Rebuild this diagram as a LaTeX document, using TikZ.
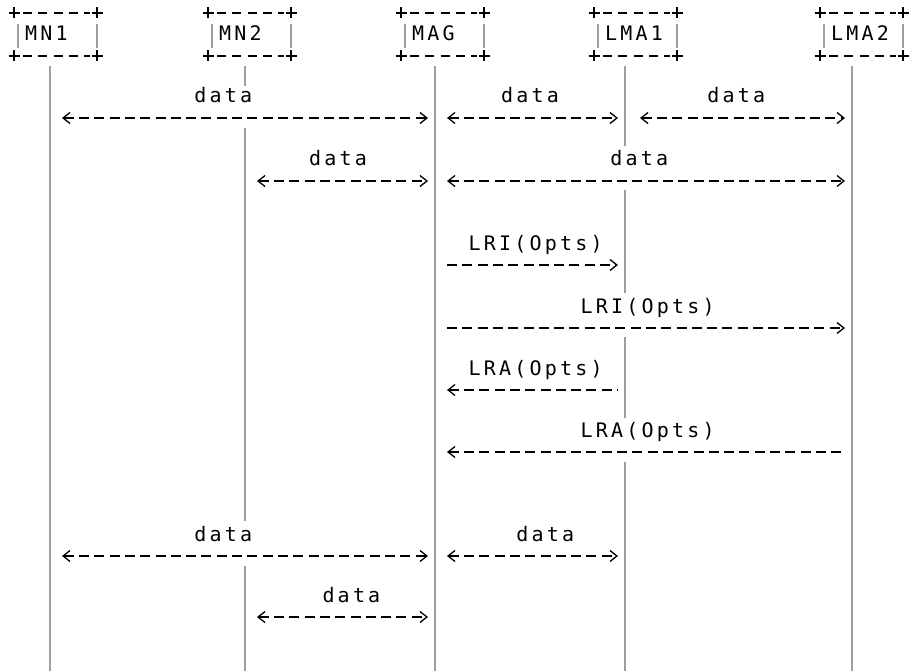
\documentclass[tikz,border=0pt]{standalone}
\usepackage{fontspec}
\newfontfamily\asciifont[LetterSpace=16]{DejaVu Sans Mono}
\usetikzlibrary{arrows.meta}

\tikzset{
    lifeline/.style={gray!75,line width=2pt},
    msg/.style={dash pattern=on 10pt off 5.3pt,line width=1.3pt,shorten <=12pt,shorten >=7pt},
    lbl/.style={anchor=base,yshift=15pt,inner sep=1.5pt,font=\asciifont\fontsize{20pt}{22pt}\selectfont},
    entity/.style={anchor=base west,inner sep=0pt,font=\asciifont\fontsize{20pt}{22pt}\selectfont},
    boxedge/.style={dash pattern=on 9pt off 6.3pt,line width=1.3pt},
    boxside/.style={gray!75,line width=1.8pt},
    corner/.style={line width=1.4pt}
}

\begin{document}
\begin{tikzpicture}[x=1pt,y=-1pt,>={Straight Barb[length=7pt,width=11pt]}]
        \useasboundingbox (0,0) rectangle (909,671);

        \foreach \n/\x in {mn1/50, mn2/245, mag/435, lma1/625, lma2/852} {
            \coordinate (\n) at (\x,66);
        }

        % Lifelines, broken where a message runs across them
        \foreach \n/\a/\b in {mn1/66/671, mn2/66/86, mn2/128/521, mn2/566/671, mag/66/671,
                              lma1/66/146, lma1/190/293, lma1/337/418, lma1/462/671, lma2/66/671} {
            \draw[lifeline] (\n |- 0,\a) -- (\n |- 0,\b);
        }

        % Boxes
        \foreach \n/\t/\x in {mn1/MN1/14, mn2/MN2/208, mag/MAG/401, lma1/LMA1/594, lma2/LMA2/820} {
            \draw[boxedge] (\x+9,13) -- (\x+76,13);
            \draw[boxedge] (\x+9,56) -- (\x+76,56);
            \draw[boxside] (\x+4,24) -- (\x+4,48);
            \draw[boxside] (\x+83,24) -- (\x+83,48);
            \foreach \cx in {\x, \x+83} {
                \foreach \cy in {13, 56} {
                    \draw[corner] (\cx-5.5,\cy) -- (\cx+5.5,\cy) (\cx,\cy-5.5) -- (\cx,\cy+5.5);
                }
            }
            \node[entity] (box-\n) at (\x+11,41) {\t};
        }

        \foreach \r/\y in {1/118, 2/181, 3/265, 4/328, 5/390, 6/452, 7/556, 8/617} {
            \coordinate (row\r) at (0,\y);
        }

        % Messages
        \draw[msg,<->] (mn1 |- row1) -- (mag |- row1) node[lbl,pos=0.45] {data};
        \draw[msg,<->] (mag |- row1) -- (lma1 |- row1) node[lbl,pos=0.5] {data};
        \draw[msg,<->,shorten <=15pt] (lma1 |- row1) -- (lma2 |- row1) node[lbl,pos=0.49] {data};

        \draw[msg,<->] (mn2 |- row2) -- (mag |- row2) node[lbl,pos=0.49] {data};
        \draw[msg,<->] (mag |- row2) -- (lma2 |- row2) node[lbl,pos=0.49] {data};

        \draw[msg,->] (mag |- row3) -- (lma1 |- row3) node[lbl,pos=0.53] {LRI(Opts)};
        \draw[msg,->] (mag |- row4) -- (lma2 |- row4) node[lbl,pos=0.51] {LRI(Opts)};
        \draw[msg,<-] (mag |- row5) -- (lma1 |- row5) node[lbl,pos=0.53] {LRA(Opts)};
        \draw[msg,<-] (mag |- row6) -- (lma2 |- row6) node[lbl,pos=0.51] {LRA(Opts)};

        \draw[msg,<->] (mn1 |- row7) -- (mag |- row7) node[lbl,pos=0.45] {data};
        \draw[msg,<->] (mag |- row7) -- (lma1 |- row7) node[lbl,pos=0.58] {data};

        \draw[msg,<->] (mn2 |- row8) -- (mag |- row8) node[lbl,pos=0.56] {data};
    \end{tikzpicture}
\end{document}
